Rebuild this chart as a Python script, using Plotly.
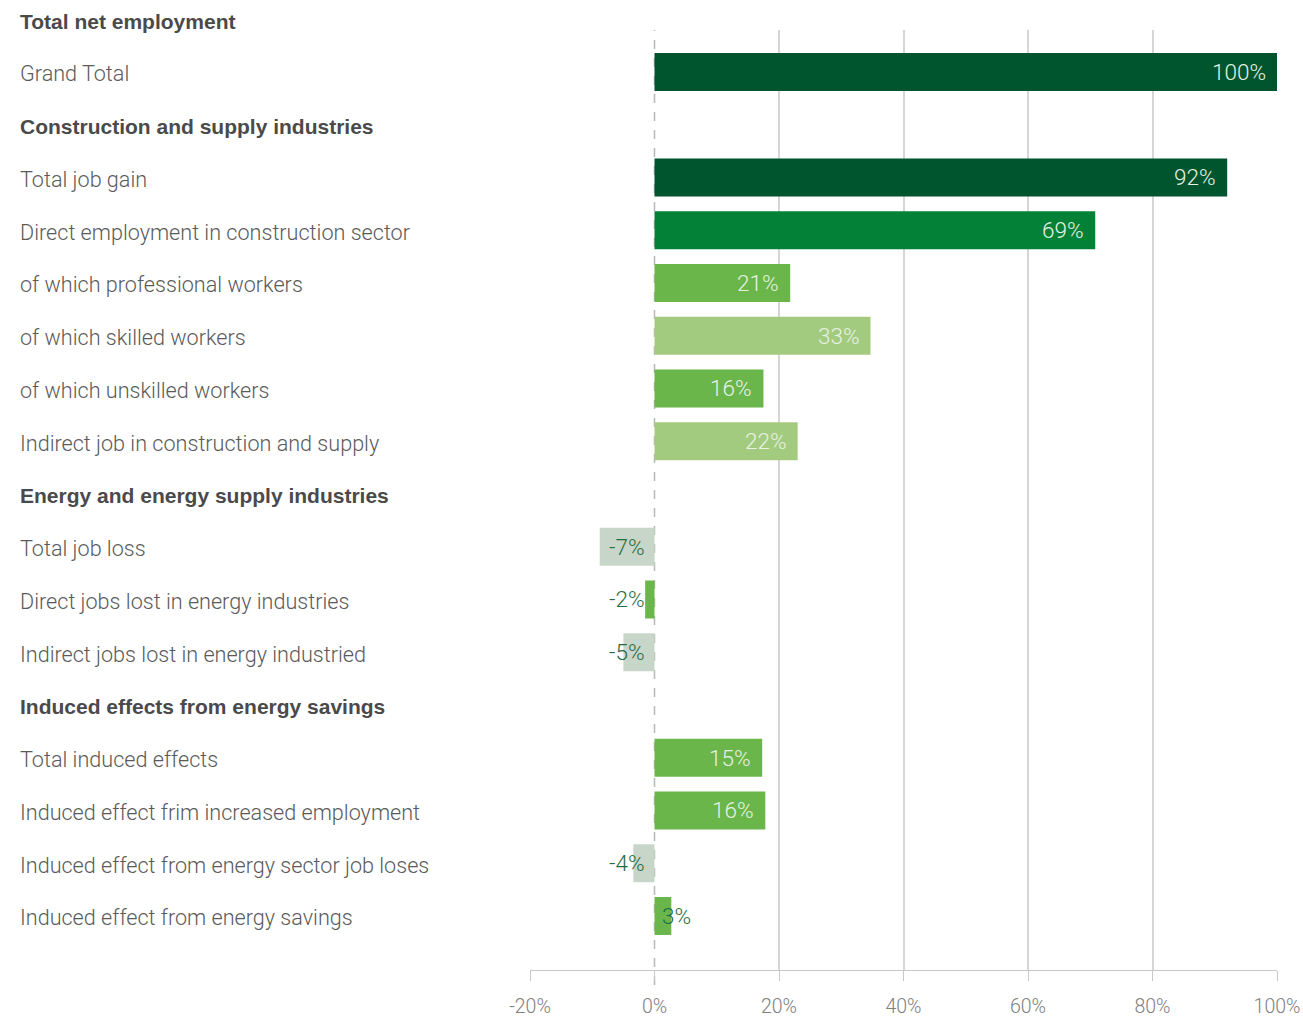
import plotly.graph_objects as go

# rows top to bottom; headers have no bar
rows = [
    "Total net employment",
    "Grand Total",
    "Construction and supply industries",
    "Total job gain",
    "Direct employment in construction sector",
    "of which professional workers",
    "of which skilled workers",
    "of which unskilled workers",
    "Indirect job in construction and supply",
    "Energy and energy supply industries",
    "Total job loss",
    "Direct jobs lost in energy industries",
    "Indirect jobs lost in energy industried",
    "Induced effects from energy savings",
    "Total induced effects",
    "Induced effect frim increased employment",
    "Induced effect from energy sector job loses",
    "Induced effect from energy savings",
]
is_header = [True, False, True, False, False, False, False, False, False,
             True, False, False, False, True, False, False, False, False]

# bar lengths as drawn (%), and printed labels
values = [None, 100, None, 92.0, 70.8, 21.8, 34.7, 17.5, 23.0,
          None, -8.8, -1.5, -5.0, None, 17.3, 17.8, -3.4, 2.7]
labels = [None, "100%", None, "92%", "69%", "21%", "33%", "16%", "22%",
          None, "-7%", "-2%", "-5%", None, "15%", "16%", "-4%", "3%"]
kinds = [None, "total", None, "total", "direct", "mid", "light", "mid", "light",
         None, "loss", "mid", "loss", None, "mid", "mid", "loss", "mid"]

x_ticks = [-20, 0, 20, 40, 60, 80, 100]
x_tick_text = ["-20%", "0%", "20%", "40%", "60%", "80%", "100%"]

colors = {
    "total": "#00552f",
    "direct": "#038237",
    "mid": "#6ab64a",
    "light": "#a3cb80",
    "loss": "#c8d6ca",
}
FONT = "Roboto"
BOLD = "Liberation Sans"
Y_RANGE = [18.024, 0.204]

bar_y = [r for r, v in zip(rows, values) if v is not None]
bar_x = [v for v in values if v is not None]
bar_c = [colors[k] for k in kinds if k is not None]

fig = go.Figure()
fig.add_trace(
    go.Bar(
        y=bar_y,
        x=bar_x,
        orientation="h",
        marker=dict(color=bar_c, line=dict(width=0)),
        width=0.72,
        hoverinfo="skip",
    )
)

annotations = []
for i, (r, h) in enumerate(zip(rows, is_header)):
    inside = Y_RANGE[1] <= i <= Y_RANGE[0]
    annotations.append(dict(
        xref="paper", x=-0.6854, xanchor="left", yanchor="middle", yshift=-2,
        yref="y" if inside else "paper",
        y=r if inside else (Y_RANGE[0] - i) / (Y_RANGE[0] - Y_RANGE[1]),
        text=r, showarrow=False,
        font=dict(family=BOLD if h else FONT, size=21 if h else 21.6,
                  color="#4a4a4a" if h else "#5a5a5a",
                  weight=700 if h else 300),
    ))

for r, v, t in zip(rows, values, labels):
    if v is None:
        continue
    if v >= 5:
        a = dict(x=v, xanchor="right", xshift=-9, color="#e6f2e2")
    elif v < 0:
        a = dict(x=0, xanchor="right", xshift=-8, color="#1f6e43")
    else:
        a = dict(x=0, xanchor="left", xshift=5, color="#1f6e43")
    annotations.append(dict(
        xref="x", yref="y", x=a["x"], y=r, xanchor=a["xanchor"], xshift=a["xshift"],
        yanchor="middle", text=t, showarrow=False,
        font=dict(family=FONT, size=22.5, color=a["color"], weight=300),
    ))

fig.update_layout(
    width=1303,
    height=1021,
    margin=dict(l=530, r=26, t=30, b=51, autoexpand=False),
    plot_bgcolor="white",
    paper_bgcolor="white",
    showlegend=False,
    annotations=annotations,
    xaxis=dict(
        range=[-20, 100],
        tickvals=x_ticks,
        ticktext=x_tick_text,
        showgrid=False,
        zeroline=False,
        showline=True,
        linecolor="#c8c8c8",
        linewidth=1,
        ticks="outside",
        ticklen=10,
        tickcolor="#c8c8c8",
        ticklabelstandoff=9,
        automargin=False,
        tickfont=dict(family=FONT, size=19.5, color="#808080", weight=300),
        minor=dict(tickvals=[-20, 20, 40, 60, 80, 100], showgrid=True,
                   gridcolor="#d6d6d6", gridwidth=1.5, ticks=""),
    ),
    yaxis=dict(
        categoryorder="array",
        categoryarray=rows,
        range=Y_RANGE,
        showticklabels=False,
        showgrid=False,
        zeroline=False,
        automargin=False,
        ticks="",
    ),
    shapes=[
        dict(type="line", xref="x", yref="paper", x0=0, x1=0, y0=-0.016, y1=1,
             line=dict(color="#b8b8b8", width=1.5, dash="dash"), layer="below"),
    ],
)

fig.write_html(
    "out.html",
    config={"displayModeBar": False},
    post_script="document.body.style.margin='0';document.body.style.overflow='hidden';",
)
